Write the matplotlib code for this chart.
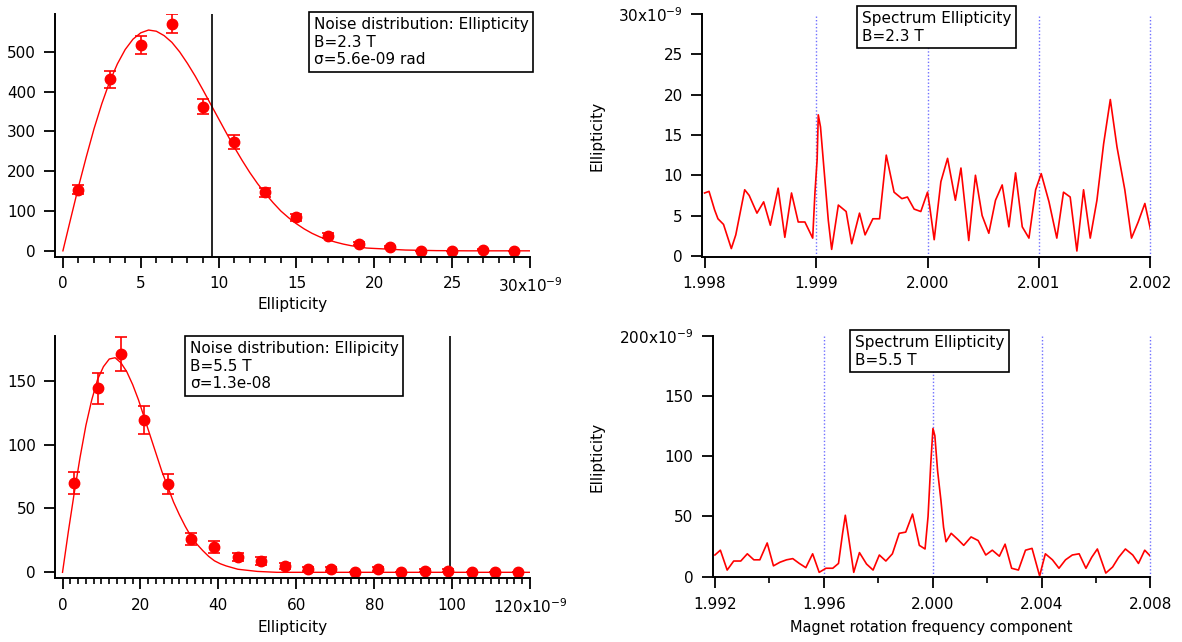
import matplotlib
matplotlib.use("Agg")
import matplotlib.pyplot as plt
from matplotlib.ticker import MultipleLocator, FixedLocator

plt.rcParams['font.family'] = 'DejaVu Sans'
plt.rcParams['font.size'] = 10.5

# --- noise distribution, B=2.3 T (ellipticity in 1e-9 rad) ---
ell_23 = [1, 3, 5, 7, 9, 11, 13, 15, 17, 19, 21, 23, 25, 27, 29]
counts_23 = [154, 431, 517, 571, 362, 274, 147, 84, 38, 18, 10, 0, 0, 3, 0]
err_23 = [12, 21, 23, 24, 19, 17, 12, 9, 6, 4, 3, 0, 0, 2, 0]
fit_x_23 = [0, 0.5, 1, 1.5, 2, 2.5, 3, 3.5, 4, 4.5, 5, 5.5, 6, 6.5, 7, 7.5, 8, 8.5, 9, 9.5,
            10, 10.5, 11, 11.5, 12, 12.5, 13, 13.5, 14, 14.5, 15, 15.5, 16, 16.5, 17, 17.5,
            18, 18.5, 19, 19.5, 20, 22, 24, 26, 28, 30]
fit_y_23 = [0, 81, 161, 236, 307, 370, 425, 470, 506, 532, 548, 555, 552, 541, 524, 500,
            471, 439, 404, 368, 332, 296, 261, 228, 197, 169, 144, 121, 100, 83, 68, 55,
            44, 35, 28, 22, 17, 13, 10, 7, 6, 2, 0.5, 0, 0, 0]
cut_23 = 9.56

# --- noise distribution, B=5.5 T ---
ell_55 = [3, 9, 15, 21, 27, 33, 39, 45, 51, 57, 63, 69, 75, 81, 87, 93, 99, 105, 111, 117]
counts_55 = [70, 144, 171, 119, 69, 26, 20, 12, 9, 5, 2.6, 2.6, 0, 2.6, 0, 1.3, 1.3, 0, 0, 0]
err_55 = [8.5, 12, 13, 11, 8, 5, 4.5, 3.5, 3, 2.2, 1.6, 1.6, 0, 1.6, 0, 1.1, 1.1, 0, 0, 0]
fit_x_55 = [0, 1.5, 3, 4.5, 6, 7.5, 9, 10.5, 12, 13.5, 15, 16.5, 18, 19.5, 21, 22.5, 24,
            25.5, 27, 28.5, 30, 31.5, 33, 34.5, 36, 37.5, 39, 40.5, 42, 45, 50, 55, 60,
            80, 100, 120]
fit_y_55 = [0, 32, 62, 90, 115, 135, 151, 161, 167, 168, 164, 157, 147, 135, 121, 107,
            93, 79, 67, 55, 45, 36, 28, 22, 17, 12.5, 9, 6.7, 5, 2.4, 0.7, 0, 0, 0, 0, 0]
cut_55 = 99.5

# --- spectrum, B=2.3 T ---
freq_23 = [1.99800, 1.99804, 1.99809, 1.99812, 1.99817, 1.99824, 1.99828, 1.99836, 1.99840, 1.99847,
           1.99853, 1.99859, 1.99866, 1.99872, 1.99878, 1.99884, 1.99890, 1.99897, 1.99899, 1.99901,
           1.99902, 1.99904, 1.99907, 1.99911, 1.99914, 1.99920, 1.99927, 1.99932, 1.99939, 1.99944,
           1.99951, 1.99957, 1.99963, 1.99970, 1.99977, 1.99982, 1.99988, 1.99994, 2.00000, 2.00002,
           2.00006, 2.00012, 2.00018, 2.00025, 2.00030, 2.00037, 2.00043, 2.00049, 2.00055, 2.00061,
           2.00067, 2.00073, 2.00079, 2.00085, 2.00091, 2.00097, 2.00102, 2.00109, 2.00116, 2.00122,
           2.00128, 2.00134, 2.00140, 2.00146, 2.00152, 2.00158, 2.00164, 2.00170, 2.00177, 2.00183,
           2.00189, 2.00195, 2.00200]
spec_23 = [7.8, 8.0, 5.7, 4.6, 3.9, 0.9, 2.6, 8.2, 7.5, 5.3,
           6.7, 3.8, 8.4, 2.3, 7.8, 4.2, 4.2, 2.2, 7.8, 12.0,
           17.5, 16.0, 11.0, 4.4, 0.8, 6.3, 5.5, 1.5, 5.3, 2.6,
           4.6, 4.6, 12.5, 7.9, 7.1, 7.3, 5.8, 5.5, 7.9, 6.1,
           2.0, 9.2, 12.1, 6.9, 10.9, 1.9, 10.0, 5.0, 2.8, 6.9,
           8.8, 3.6, 10.3, 3.6, 2.2, 8.2, 10.2, 6.7, 2.2, 7.9,
           7.3, 0.6, 8.2, 2.2, 6.9, 13.9, 19.4, 13.5, 8.2, 2.2,
           4.2, 6.5, 3.3]

# --- spectrum, B=5.5 T ---
freq_55 = [1.99200, 1.99220, 1.99245, 1.99269, 1.99295, 1.99319, 1.99343, 1.99365, 1.99392, 1.99415,
           1.99439, 1.99463, 1.99486, 1.99510, 1.99534, 1.99559, 1.99583, 1.99608, 1.99633, 1.99654,
           1.99669, 1.99679, 1.99689, 1.99710, 1.99731, 1.99757, 1.99781, 1.99804, 1.99828, 1.99852,
           1.99877, 1.99901, 1.99926, 1.99951, 1.99972, 1.99983, 1.99993, 2.00001, 2.00008, 2.00018,
           2.00030, 2.00040, 2.00049, 2.00068, 2.00092, 2.00114, 2.00141, 2.00167, 2.00195, 2.00219,
           2.00245, 2.00266, 2.00290, 2.00315, 2.00341, 2.00365, 2.00393, 2.00400, 2.00414, 2.00440,
           2.00464, 2.00488, 2.00513, 2.00538, 2.00563, 2.00584, 2.00605, 2.00636, 2.00661, 2.00683,
           2.00708, 2.00735, 2.00756, 2.00779, 2.00800]
spec_55 = [18, 22, 5.5, 13, 13, 19, 14, 14, 28, 9,
           12, 14, 15, 11, 7.5, 19, 3.6, 7, 7, 11,
           36, 51, 36, 3.6, 20, 10.5, 5.5, 18, 13, 19,
           36, 37, 52, 26, 23, 50, 94, 123, 117, 88,
           64, 41, 29, 36, 31, 26, 33, 30, 18, 22,
           17, 27, 7, 5.5, 22, 23.5, 0.5, 7, 19, 14,
           7, 14, 18, 19, 7, 16, 23, 3, 8, 16,
           23, 18, 11, 22, 17]

ticks_23 = [1.998, 1.999, 2.000, 2.001, 2.002]
ticks_55 = [1.992, 1.996, 2.000, 2.004, 2.008]
grid_23 = [1.999, 2.000, 2.001, 2.002]
grid_55 = [1.996, 2.000, 2.004, 2.008]

blue_dot = '#6f6fff'


def igor_style(ax):
    for s in ['top', 'right']:
        ax.spines[s].set_visible(False)
    for s in ['left', 'bottom']:
        ax.spines[s].set_linewidth(1.4)
    ax.tick_params(which='major', direction='out', length=8, width=1.3, pad=6, labelsize=11)
    ax.tick_params(which='minor', direction='out', length=4.5, width=1.2)


def box(x, y, txt):
    fig.text(x, y, txt, ha='left', va='top', fontsize=11, linespacing=1.22,
             bbox=dict(boxstyle='square,pad=0.3', fc='white', ec='black', lw=1.2))


fig = plt.figure(figsize=(11.82, 6.42), dpi=100)

# top left
ax = fig.add_axes([0.0469, 0.600, 0.4015, 0.378])
igor_style(ax)
ax.plot(fit_x_23, fit_y_23, color='red', lw=1)
ax.errorbar(ell_23, counts_23, yerr=err_23, fmt='o', color='red', ms=7.5,
            capsize=4, elinewidth=1.2, capthick=1.2)
ax.axvline(cut_23, color='black', lw=1.2)
ax.set_xlim(-0.48, 30)
ax.set_ylim(-15, 595)
ax.xaxis.set_major_locator(FixedLocator([0, 5, 10, 15, 20, 25, 30]))
ax.set_xticklabels(['0', '5', '10', '15', '20', '25', r'30x10$^{-9}$'])
ax.xaxis.set_minor_locator(MultipleLocator(1))
ax.yaxis.set_major_locator(FixedLocator([0, 100, 200, 300, 400, 500]))
ax.set_xlabel('Ellipticity', fontsize=11)
ax.xaxis.set_label_coords(0.5, -0.166)
box(0.2657, 0.9735, 'Noise distribution: Ellipticity\nB=2.3 T\nσ=5.6e-09 rad')

# bottom left
ax = fig.add_axes([0.0469, 0.0992, 0.4015, 0.378])
igor_style(ax)
ax.plot(fit_x_55, fit_y_55, color='red', lw=1)
ax.errorbar(ell_55, counts_55, yerr=err_55, fmt='o', color='red', ms=7.5,
            capsize=4, elinewidth=1.2, capthick=1.2)
ax.axvline(cut_55, color='black', lw=1.2)
ax.set_xlim(-1.82, 120)
ax.set_ylim(-4.7, 185.3)
ax.xaxis.set_major_locator(FixedLocator([0, 20, 40, 60, 80, 100, 120]))
ax.set_xticklabels(['0', '20', '40', '60', '80', '100', r'120x10$^{-9}$'])
ax.xaxis.set_minor_locator(MultipleLocator(2))
ax.yaxis.set_major_locator(FixedLocator([0, 50, 100, 150]))
ax.set_xlabel('Ellipticity', fontsize=11)
ax.xaxis.set_label_coords(0.5, -0.172)
box(0.1607, 0.4688, 'Noise distribution: Ellipicity\nB=5.5 T\nσ=1.3e-08')

# top right
ax = fig.add_axes([0.5942, 0.600, 0.3791, 0.378])
igor_style(ax)
for g in grid_23:
    ax.axvline(g, color=blue_dot, lw=1, ls=(0, (1, 1.5)), clip_on=False)
ax.plot(freq_23, spec_23, color='red', lw=1.2)
ax.set_xlim(1.99798, 2.0020)
ax.set_ylim(-0.12, 30)
ax.xaxis.set_major_locator(FixedLocator(ticks_23))
ax.set_xticklabels(['%.3f' % t for t in ticks_23])
ax.yaxis.set_major_locator(FixedLocator([0, 5, 10, 15, 20, 25, 30]))
ax.set_yticklabels(['0', '5', '10', '15', '20', '25', r'30x10$^{-9}$'])
ax.set_ylabel('Ellipticity', fontsize=11)
ax.yaxis.set_label_coords(-0.219, 0.5)
box(0.7293, 0.9829, 'Spectrum Ellipticity\nB=2.3 T')

# bottom right
ax = fig.add_axes([0.6030, 0.1008, 0.3703, 0.3762])
igor_style(ax)
for g in grid_55:
    ax.axvline(g, color=blue_dot, lw=1, ls=(0, (1, 1.5)), clip_on=False)
ax.plot(freq_55, spec_55, color='red', lw=1.2)
ax.set_xlim(1.99192, 2.0080)
ax.set_ylim(-0.5, 200)
ax.xaxis.set_major_locator(FixedLocator(ticks_55))
ax.set_xticklabels(['%.3f' % t for t in ticks_55])
ax.xaxis.set_minor_locator(FixedLocator([1.994, 1.998, 2.002, 2.006]))
ax.yaxis.set_major_locator(FixedLocator([0, 50, 100, 150, 200]))
ax.set_yticklabels(['0', '50', '100', '150', r'200x10$^{-9}$'])
ax.set_ylabel('Ellipticity', fontsize=11)
ax.yaxis.set_label_coords(-0.248, 0.5)
ax.set_xlabel('Magnet rotation frequency component')
ax.xaxis.set_label_coords(0.5, -0.177)
box(0.7234, 0.4782, 'Spectrum Ellipticity\nB=5.5 T')

fig.savefig('out.png', dpi=100)
